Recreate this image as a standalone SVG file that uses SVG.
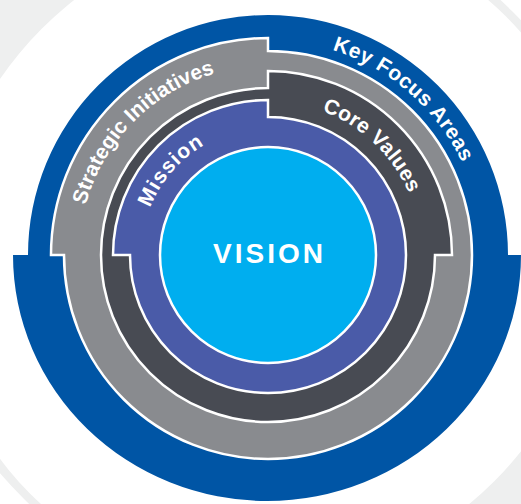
<svg xmlns="http://www.w3.org/2000/svg" width="521" height="504" viewBox="0 0 521 504">
<style>
.sep{stroke:#fff;stroke-width:2.5;stroke-linejoin:miter}
.lbl{font-family:"Liberation Sans",Arial,Helvetica,sans-serif;font-weight:bold;fill:#fff}
</style>
<defs>
<path id="pKey" d="M163.8 67 A215 215 0 0 1 468.7 332.1"/>
<path id="pCore" d="M199.3 117.2 A154 154 0 0 1 409.2 316.4"/>
<path id="pStrat" d="M97.4 336.4 A189 189 0 0 1 346.4 83"/>
<path id="pMission" d="M156.9 316.6 A127 127 0 0 1 313.5 136.4"/>
</defs>
<rect width="521" height="504" fill="#fff"/>
<g id="background">
<g transform="rotate(-45 268 255)">
<path fill="#eeefef" fill-rule="evenodd" d="M-77 255 A345 420 0 1 0 613 255 A345 420 0 1 0 -77 255 Z M-69 255 A337 320 0 1 0 605 255 A337 320 0 1 0 -69 255 Z"/>
</g>
</g>
<g id="key-focus-areas">
<path fill="#0055a5" d="M28 255 A240 240 0 0 1 508 255 L521 255 A254 246 0 0 1 267 501 A254 246 0 0 1 13 255 Z"/>
<text class="lbl" font-size="21" letter-spacing="0.5"><textPath href="#pKey" startOffset="50%" text-anchor="middle">Key Focus Areas</textPath></text>
</g>
<g id="strategic-initiatives">
<path class="sep" fill="#898b8f" d="M51 255 A217 217 0 0 1 268 38 L268 51 A204 204 0 0 1 472 255 A204 204 0 0 1 268 459 A204 204 0 0 1 64 255 Z"/>
<text class="lbl" font-size="21"><textPath href="#pStrat" startOffset="50%" text-anchor="middle">Strategic Initiatives</textPath></text>
</g>
<g id="core-values">
<path class="sep" fill="#484b53" d="M101 255 A167 167 0 0 1 268 88 L268 71 A184 184 0 0 1 452 255 L435 255 A167 167 0 0 1 268 422 A167 167 0 0 1 101 255 Z"/>
<text class="lbl" font-size="21" letter-spacing="0.3"><textPath href="#pCore" startOffset="50%" text-anchor="middle">Core Values</textPath></text>
</g>
<g id="mission">
<path class="sep" fill="#4a5ba8" d="M113 255 A155 155 0 0 1 268 100 L268 117 A138 138 0 0 1 406 255 A138 138 0 0 1 268 393 A138 138 0 0 1 130 255 Z"/>
<text class="lbl" font-size="21" letter-spacing="1"><textPath href="#pMission" startOffset="50%" text-anchor="middle">Mission</textPath></text>
</g>
<g id="vision">
<circle class="sep" cx="268" cy="255" r="108" fill="#00aeef"/>
<text class="lbl" x="269.5" y="263" font-size="28" letter-spacing="3" text-anchor="middle">VISION</text>
</g>
</svg>
